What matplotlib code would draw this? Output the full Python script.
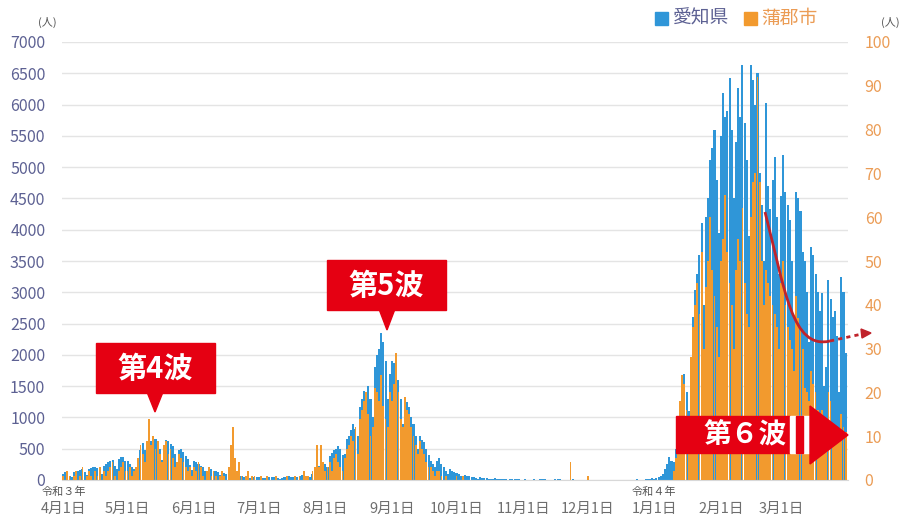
import numpy as np
import matplotlib
matplotlib.use("Agg")
import matplotlib.pyplot as plt
import matplotlib.patches as mpatches
from matplotlib.path import Path

plt.rcParams["font.family"] = ["Noto Sans CJK JP", "DejaVu Sans"]

W, H = 899, 516
BLUE = "#2f96d8"
ORANGE = "#f29a2e"
RED = "#e50012"
SLATE = "#5d6193"
ORANGE_TXT = "#eb9c55"

# daily new cases, 2021-04-01 .. 2022-03-31
aichi_apr = [100, 120, 110, 70, 50, 130, 150, 140, 160, 170, 120, 80, 170, 190, 200, 210, 190, 150, 100, 230,
             260, 280, 300, 320, 230, 170, 340, 370, 360, 300]
aichi_may = [310, 260, 210, 180, 200, 330, 480, 590, 480, 350, 560, 620, 700, 650, 600, 500, 320, 560, 640, 620,
             580, 540, 420, 260, 480, 500, 440, 380, 330, 240, 160]
aichi_jun = [300, 280, 250, 230, 200, 150, 90, 200, 180, 150, 140, 120, 80, 50, 110, 100, 90, 80, 70, 40,
             30, 60, 70, 50, 60, 45, 30, 20, 50, 45]
aichi_jul = [40, 35, 30, 25, 15, 40, 45, 40, 35, 30, 20, 25, 50, 55, 60, 55, 50, 30, 40, 70,
             80, 90, 60, 50, 40, 90, 150, 200, 220, 250, 230]
aichi_aug = [250, 200, 380, 430, 480, 500, 550, 500, 400, 420, 650, 700, 800, 900, 820, 700, 1170, 1300, 1420, 1400,
             1500, 1300, 1000, 1800, 2000, 2100, 2350, 2200, 1900, 1300, 1700]
aichi_sep = [1900, 1870, 1800, 1600, 1300, 900, 1300, 1250, 1170, 1000, 900, 700, 500, 700, 640, 600, 500, 400, 300, 250,
             200, 300, 350, 250, 200, 150, 100, 180, 150, 120]
aichi_oct = [110, 90, 70, 40, 80, 70, 60, 50, 40, 30, 15, 40, 35, 30, 25, 20, 12, 10, 25, 22,
             20, 18, 15, 8, 6, 15, 14, 12, 10, 9, 5]
aichi_nov = [3, 8, 6, 5, 7, 8, 4, 2, 10, 9, 8, 7, 6, 3, 2, 8, 9, 10, 6, 5,
             3, 2, 4, 8, 7, 6, 5, 3, 2, 6]
aichi_dec = [5, 4, 5, 4, 3, 2, 5, 6, 7, 5, 4, 3, 2, 4, 5, 6, 5, 4, 2, 3,
             5, 6, 7, 8, 6, 4, 5, 10, 15, 20, 25]
aichi_jan = [20, 25, 40, 60, 90, 180, 250, 370, 300, 280, 500, 800, 1200, 1500, 1700, 1400, 1100, 1920, 2600, 3040,
             3300, 3600, 4100, 2800, 4200, 4500, 5110, 5300, 5590, 4800, 3950]
aichi_feb = [5500, 6180, 5800, 5900, 6420, 5600, 4500, 5400, 6260, 5800, 6630, 5700, 5110, 3900, 6630, 6400, 6000, 6500,
             4900, 4400, 3500, 6020, 4700, 4330, 4800, 5160, 4200, 3300]
aichi_mar = [4540, 5190, 4600, 4400, 4150, 3500, 2600, 4600, 4500, 4300, 3640, 3500, 3000, 2200, 3720, 3600, 3300, 3000,
             2700, 2990, 1500, 1800, 3200, 2900, 2610, 2700, 2300, 1400, 3250, 3000, 2030]

gama_apr = [1, 0, 2, 1, 0, 1, 2, 0, 1, 3, 0, 1, 2, 1, 0, 2, 1, 3, 0, 2, 1, 2, 3, 4, 1, 0, 2, 3, 4, 2]
gama_may = [2, 3, 1, 2, 3, 5, 8, 6, 4, 9, 14, 8, 10, 7, 9, 6, 4, 8, 9, 6, 7, 5, 3, 4, 6, 5, 4, 3, 2, 3, 1]
gama_jun = [3, 2, 4, 3, 1, 0, 2, 3, 1, 2, 1, 0, 1, 2, 1, 0, 3, 8, 12, 5, 2, 4, 1, 0, 1, 2, 0, 1, 1, 0]
gama_jul = [0, 1, 0, 0, 1, 0, 0, 0, 1, 0, 0, 0, 0, 1, 0, 0, 0, 1, 0, 1, 0, 2, 1, 1, 0, 2, 3, 8, 3, 8, 4]
gama_aug = [2, 3, 4, 2, 5, 6, 4, 3, 2, 5, 7, 8, 10, 9, 12, 6, 14, 16, 18, 20, 15, 10, 12, 21, 20, 18, 24, 17, 14, 12,
            20]
gama_sep = [18, 22, 29, 20, 14, 12, 19, 16, 15, 12, 10, 8, 6, 9, 7, 6, 4, 3, 3, 2, 1, 2, 2, 1, 0, 1, 0, 0, 0, 0]
gama_oct = [1, 0, 0, 1, 0, 0, 0, 0, 0, 0, 0, 0, 0, 0, 0, 0, 0, 0, 0, 0, 0, 0, 0, 0, 0, 0, 0, 0, 0, 0, 0]
gama_nov = [0, 0, 0, 0, 0, 0, 0, 0, 0, 0, 0, 0, 0, 0, 0, 0, 0, 0, 0, 0, 0, 0, 4, 0, 0, 0, 0, 0, 0, 0]
gama_dec = [1, 0, 0, 0, 0, 0, 0, 0, 0, 0, 0, 0, 0, 0, 0, 0, 0, 0, 0, 0, 0, 0, 0, 0, 0, 0, 0, 0, 0, 0, 0]
gama_jan = [0, 0, 0, 0, 0, 0, 0, 0, 0, 2, 5, 10, 18, 24, 22, 16, 12, 28, 35, 40, 45, 38, 52, 30, 44, 50, 60, 48, 42, 35,
            28]
gama_feb = [50, 55, 65, 52, 45, 40, 30, 48, 55, 50, 62, 45, 38, 35, 60, 68, 70, 92, 68, 50, 40, 48, 45, 42, 40, 38, 35,
            30]
gama_mar = [45, 50, 40, 35, 32, 30, 25, 42, 37, 35, 30, 21, 20, 18, 25, 22, 20, 16, 15, 16, 12, 14, 20, 18, 13, 12, 11,
            10, 15, 12, 11]

month_starts = [0, 30, 61, 91, 122, 153, 183, 214, 244, 275, 306, 334]
month_labels = ["4月1日", "5月1日", "6月1日", "7月1日", "8月1日", "9月1日", "10月1日", "11月1日",
                "12月1日", "1月1日", "2月1日", "3月1日"]

aichi = np.array(aichi_apr + aichi_may + aichi_jun + aichi_jul + aichi_aug + aichi_sep
                 + aichi_oct + aichi_nov + aichi_dec + aichi_jan + aichi_feb + aichi_mar)
gama = np.array(gama_apr + gama_may + gama_jun + gama_jul + gama_aug + gama_sep
                + gama_oct + gama_nov + gama_dec + gama_jan + gama_feb + gama_mar)
days = np.arange(len(aichi))


def fx(x):
    return x / W


def fy(y):
    return 1 - y / H


fig = plt.figure(figsize=(W / 100, H / 100), dpi=100)
ax = fig.add_axes([fx(62), fy(480), 786 / W, 438 / H])
ax.bar(days, aichi, width=0.95, color=BLUE, linewidth=0)
ax.set_xlim(-0.5, 365.1)
ax.set_ylim(0, 7000)
ax.set_yticks(range(0, 7001, 500))
ax.grid(axis="y", color="#e4e4e4", linewidth=1)
ax.set_axisbelow(True)
ax.set_xticks(month_starts)
ax.set_xticklabels(month_labels)
ax.tick_params(axis="x", length=0, pad=16, labelsize=10.5, labelcolor="#6e6e6e")
ax.tick_params(axis="y", length=0, pad=12, labelsize=11.5, labelcolor=SLATE)
for s in ["top", "left", "right"]:
    ax.spines[s].set_visible(False)
ax.spines["bottom"].set_color("#d8d8d8")

ax2 = ax.twinx()
ax2.bar(days, gama, width=0.85, color=ORANGE, linewidth=0)
ax2.set_ylim(0, 100)
ax2.set_yticks(range(0, 101, 10))
ax2.tick_params(axis="y", length=0, pad=12, labelsize=11.5, labelcolor=ORANGE_TXT)
for s in ax2.spines.values():
    s.set_visible(False)

# unit labels, era labels, legend
fig.text(fx(47), fy(22), "(人)", fontsize=8, color="#555555", ha="center", va="center")
fig.text(fx(890), fy(22), "(人)", fontsize=8, color="#555555", ha="center", va="center")
fig.text(fx(64), fy(492), "令和３年", fontsize=8, color="#555555", ha="center", va="center")
fig.text(fx(654), fy(492), "令和４年", fontsize=8, color="#555555", ha="center", va="center")

ov = fig.add_axes([0, 0, 1, 1])
ov.set_xlim(0, W)
ov.set_ylim(H, 0)
ov.axis("off")
ov.set_zorder(10)
ov.patch.set_alpha(0)

ov.add_patch(mpatches.Rectangle((655, 12), 13, 13, color=BLUE))
ov.text(673, 18.5, "愛知県", fontsize=13.5, color=SLATE, va="center")
ov.add_patch(mpatches.Rectangle((744, 12), 13, 13, color=ORANGE))
ov.text(761, 18.5, "蒲郡市", fontsize=13.5, color=ORANGE_TXT, va="center")


def callout(x0, y0, x1, y1, tip_x, tip_y, label):
    ov.add_patch(mpatches.Rectangle((x0, y0), x1 - x0, y1 - y0, color=RED))
    ov.add_patch(mpatches.Polygon([(tip_x - 8, y1 - 1), (tip_x + 8, y1 - 1), (tip_x, tip_y)], color=RED))
    ov.text((x0 + x1) / 2, (y0 + y1) / 2 + 1, label, fontsize=21, fontweight="bold", color="white",
            ha="center", va="center")


callout(96, 343, 215, 393, 155, 412, "第4波")
callout(327, 260, 446, 310, 387, 330, "第5波")

# 6th wave arrow banner
ov.add_patch(mpatches.Rectangle((676, 416), 114, 37, color=RED))
ov.add_patch(mpatches.Rectangle((790, 416), 20, 37, color="white"))
ov.add_patch(mpatches.Rectangle((796, 416), 7, 37, color=RED))
ov.add_patch(mpatches.Polygon([(810, 406), (848, 435), (810, 464)], color=RED))
ov.text(745, 435, "第６波", fontsize=20, fontweight="bold", color="white", ha="center", va="center")

# hand-drawn decline arrow
DARK = "#c0232b"
verts = [(765, 212), (785, 290), (792, 350), (830, 341)]
ov.add_patch(mpatches.PathPatch(Path(verts, [Path.MOVETO, Path.CURVE4, Path.CURVE4, Path.CURVE4]),
                                fill=False, edgecolor=DARK, linewidth=2))
ov.plot([830, 862], [341, 334], color=DARK, linewidth=2, linestyle=(0, (1.5, 1.5)))
ov.add_patch(mpatches.Polygon([(861, 329), (871, 333), (862, 338)], color=DARK))

fig.savefig("out.png", dpi=100)
